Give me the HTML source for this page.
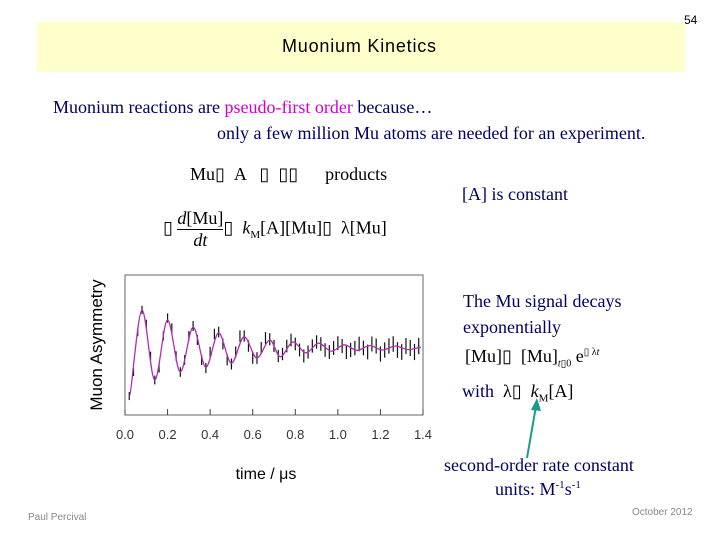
<!DOCTYPE html>
<html><head><meta charset="utf-8">
<style>
body{margin:0;background:#fff;}
#slide{position:relative;width:720px;height:540px;overflow:hidden;background:#fff;font-family:"Liberation Serif",serif;}
.t{position:absolute;white-space:nowrap;}
.navy{color:#00005e;}
</style></head>
<body>
<div id="slide">
<div class="t" style="left:684px;top:13px;font:12px 'Liberation Sans',sans-serif;">54</div>
<div style="position:absolute;left:37px;top:22px;width:648px;height:50px;background:#ffffcc;"></div>
<div class="t" style="left:282px;top:36px;font:18px 'Liberation Sans',sans-serif;letter-spacing:0.8px;">Muonium Kinetics</div>
<div class="t navy" style="left:53px;top:97px;font-size:18px;">Muonium reactions are <span style="color:#cc00cc">pseudo-first order</span> because…</div>
<div class="t navy" style="left:217px;top:123px;font-size:18px;">only a few million Mu atoms are needed for an experiment.</div>
<div class="t" style="left:190px;top:164px;font-size:18px;">Mu▯ &nbsp;A &nbsp;&nbsp;▯ &nbsp;▯▯ &nbsp;&nbsp;&nbsp;&nbsp;&nbsp;products</div>
<div class="t navy" style="left:462px;top:184px;font-size:18px;">[A] is constant</div>
<div class="t" style="left:163px;top:208px;font-size:18px;">▯ <span style="display:inline-block;text-align:center;vertical-align:middle;line-height:21px;"><span style="display:block;border-bottom:1px solid #000;"><i>d</i>[Mu]</span><span style="display:block;"><i>dt</i></span></span>▯ &nbsp;<i>k</i><sub style="font-size:11px">M</sub>[A][Mu]▯ &nbsp;λ[Mu]</div>
<div class="t navy" style="left:463px;top:288px;font-size:18px;line-height:26px;">The Mu signal decays<br>exponentially</div>
<div class="t" style="left:465px;top:346px;font-size:18px;">[Mu]▯ &nbsp;[Mu]<sub style="font-size:10px"><i>t</i>▯0</sub> e<sup style="font-size:10px">▯ λ<i>t</i></sup></div>
<div class="t navy" style="left:462px;top:381px;font-size:18px;">with &nbsp;<span style="color:#000">λ▯ &nbsp;<i>k</i><sub style="font-size:11px">M</sub>[A]</span></div>
<div class="t navy" style="left:444px;top:455px;font-size:18px;">second-order rate constant</div>
<div class="t navy" style="left:495px;top:479px;font-size:18px;">units: M<sup style="font-size:11px">-1</sup>s<sup style="font-size:11px">-1</sup></div>
<div class="t" style="left:28px;top:512px;font:10px 'Liberation Sans',sans-serif;color:#888;">Paul Percival</div>
<div class="t" style="left:632px;top:507px;font:10px 'Liberation Sans',sans-serif;color:#888;">October 2012</div>
<svg id="chart" width="720" height="540" style="position:absolute;left:0;top:0;">
<line x1="527" y1="458" x2="536" y2="406" stroke="#1a9a8a" stroke-width="2"/>
<polygon points="537,398 531,410 541,411" fill="#1a9a8a"/>
</svg>
</div>
<script>
const fitT=[0.02,0.08,0.14,0.20,0.26,0.32,0.38,0.44,0.50,0.56,0.62,0.68,0.73,0.79,0.85,0.91,0.97,1.03,1.09,1.15,1.21,1.27,1.33,1.39];
const fitV=[-1.22,0.95,-0.8,0.7,-0.6,0.52,-0.48,0.38,-0.38,0.28,-0.25,0.2,-0.22,0.15,-0.12,0.12,-0.08,0.08,-0.06,0.06,-0.05,0.05,-0.04,0.02];
const dataT=[];for(let i=0;i<69;i++)dataT.push(0.02+i*0.02);
const dataV=[-1.2,-0.6,0.4,0.95,0.6,-0.2,-0.8,-0.5,0.3,0.75,0.5,-0.2,-0.6,-0.3,0.3,0.55,0.2,-0.3,-0.5,-0.1,0.35,0.4,0.1,-0.3,-0.4,-0.1,0.3,0.3,0.05,-0.25,-0.25,0.0,0.25,0.22,0.05,-0.2,-0.15,0.05,0.2,0.1,-0.05,-0.2,-0.1,0.05,0.15,0.1,-0.05,-0.1,0.0,0.12,0.05,-0.1,-0.05,0.0,0.1,0.0,-0.1,0.1,0.05,-0.15,-0.05,0.05,0.1,-0.05,-0.1,0.05,0.0,-0.1,0.05];
const xTicks=["0.0","0.2","0.4","0.6","0.8","1.0","1.2","1.4"];
const svg=document.getElementById('chart');const NS='http://www.w3.org/2000/svg';
const X0=125,X1=423,Y0=275,Y1=415;
const xs=t=>X0+(t/1.4)*(X1-X0);
const ys=v=>348-v*40;
function mk(tag,at){const e=document.createElementNS(NS,tag);for(const k in at)e.setAttribute(k,at[k]);svg.appendChild(e);return e;}
const fr=mk('rect',{x:X0,y:Y0,width:X1-X0,height:Y1-Y0,fill:'none',stroke:'#666','stroke-width':1});


xTicks.forEach((l,i)=>{const v=parseFloat(l);const x=xs(v);
const tk=mk('line',{x1:x,x2:x,y1:Y1,y2:Y1-6,stroke:'#444'});


const tx=mk('text',{x:x,y:439,'text-anchor':'middle','font-family':'Liberation Sans, sans-serif','font-size':13,fill:'#333'});tx.textContent=l;

});
const xt=mk('text',{x:266,y:479,'text-anchor':'middle','font-family':'Liberation Sans, sans-serif','font-size':16});xt.textContent='time / μs';


const yt=mk('text',{x:0,y:0,transform:'translate(102,345) rotate(-90)','text-anchor':'middle','font-family':'Liberation Sans, sans-serif','font-size':17});yt.textContent='Muon Asymmetry';


dataT.forEach((t,i)=>{const x=xs(t),y=ys(dataV[i]);const h=4+t*3;
const b=mk('line',{x1:x,x2:x,y1:y-h,y2:y+h,stroke:'#111','stroke-width':1.2});

});
let pts=fitT.map((t,i)=>[xs(t),ys(fitV[i])]);
let d='M'+pts[0][0]+','+pts[0][1];
for(let i=0;i<pts.length-1;i++){const p0=pts[Math.max(0,i-1)],p1=pts[i],p2=pts[i+1],p3=pts[Math.min(pts.length-1,i+2)];
const c1=[p1[0]+(p2[0]-p0[0])/6,p1[1]];const c2=[p2[0]-(p3[0]-p1[0])/6,p2[1]];
d+=' C'+c1[0]+','+c1[1]+' '+c2[0]+','+c2[1]+' '+p2[0]+','+p2[1];}
const fit=mk('path',{d:d,fill:'none',stroke:'#b030b0','stroke-width':1.3});


</script>
</body></html>
